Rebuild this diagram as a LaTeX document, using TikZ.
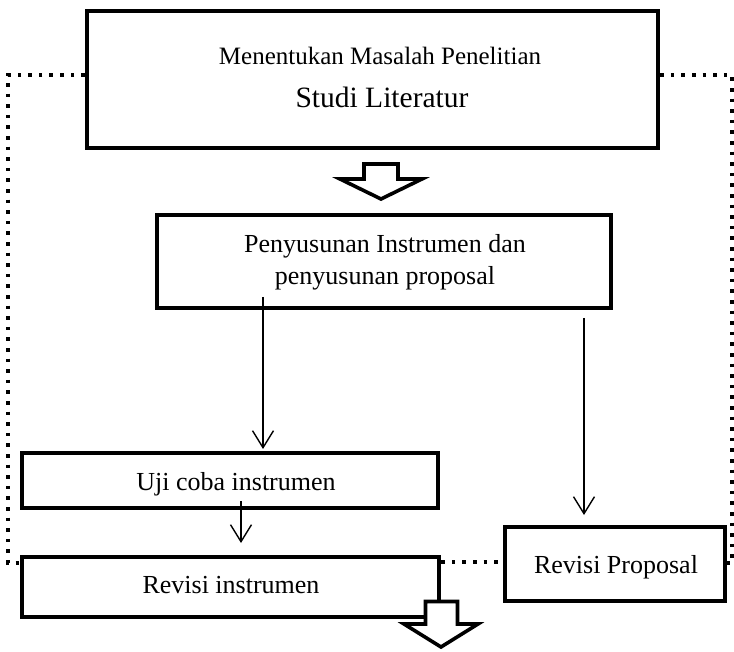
\documentclass[tikz,border=0pt]{standalone}
\usepackage{fontspec}
\setmainfont{Liberation Serif}
\usetikzlibrary{arrows.meta}
\begin{document}
\begin{tikzpicture}[x=1pt,y=-1pt,
  boxstyle/.style={draw=black,line width=4.5pt,fill=white,inner sep=0pt,minimum width=#1},
  txt/.style={inner sep=0pt,anchor=base,font=\fontsize{26}{32}\selectfont},
  dotline/.style={line width=3.6pt,dash pattern=on 3.6pt off 7pt},
  thinarrow/.style={line width=1.4pt,-{Straight Barb[length=17pt,width=21pt,line width=1.4pt]}},
  hollow/.style={draw=black,fill=white,line width=3.6pt,line join=miter}]
\useasboundingbox (0,0) rectangle (734,652);
% boxes
\node[boxstyle=571pt,minimum height=137pt] (top) at (372.5,79.5) {};
\node[boxstyle=454pt,minimum height=93pt] (box2) at (384,261.5) {};
\node[boxstyle=416pt,minimum height=55pt] (uji) at (230,480.5) {};
\node[boxstyle=417pt,minimum height=60pt] (revi) at (230.5,587) {};
\node[boxstyle=220pt,minimum height=74pt] (revp) at (615,564) {};
% texts
\node[txt,font=\fontsize{25}{30}\selectfont] (t1) at (380,65) {Menentukan Masalah Penelitian};
\node[txt,font=\fontsize{29.5}{36}\selectfont] (t2) at (382,108) {Studi Literatur};
\node[txt] (t3) at (385,253) {Penyusunan Instrumen dan};
\node[txt] (t4) at (385,285) {penyusunan proposal};
\node[txt] (t5) at (236,490) {Uji coba instrumen};
\node[txt] (t6) at (231,593) {Revisi instrumen};
\node[txt] (t7) at (616,573) {Revisi Proposal};
% dotted connectors
\coordinate (lc) at (8,563);
\coordinate (rc) at (732,563);
\draw[dotline] ([yshift=4.5pt]top.west) -| (lc) -- (lc -| revi.west);
\draw[dotline] ([yshift=4.5pt]top.east) -| (rc) -- (rc -| revp.east);
\draw[dotline] (revi.east |- 0,562) -- (revp.west |- 0,562);
% thin arrows
\coordinate (a1s) at (263,297);
\coordinate (a1e) at (263,449);
\draw[thinarrow] (a1s) -- (a1e);
\coordinate (a2s) at (584,318);
\coordinate (a2e) at (584,515);
\draw[thinarrow] (a2s) -- (a2e);
\coordinate (a3s) at (241,501);
\coordinate (a3e) at (241,543);
\draw[thinarrow] (a3s) -- (a3e);
% hollow block arrows
\draw[hollow] (364,164) -- (398,164) -- (398,179) -- (422,179) -- (381,199) -- (340,179) -- (364,179) -- cycle;
\draw[hollow] (425.5,601.5) -- (457.5,601.5) -- (457.5,624) -- (478,624) -- (441,647) -- (404,624) -- (425.5,624) -- cycle;
\end{tikzpicture}
\end{document}
